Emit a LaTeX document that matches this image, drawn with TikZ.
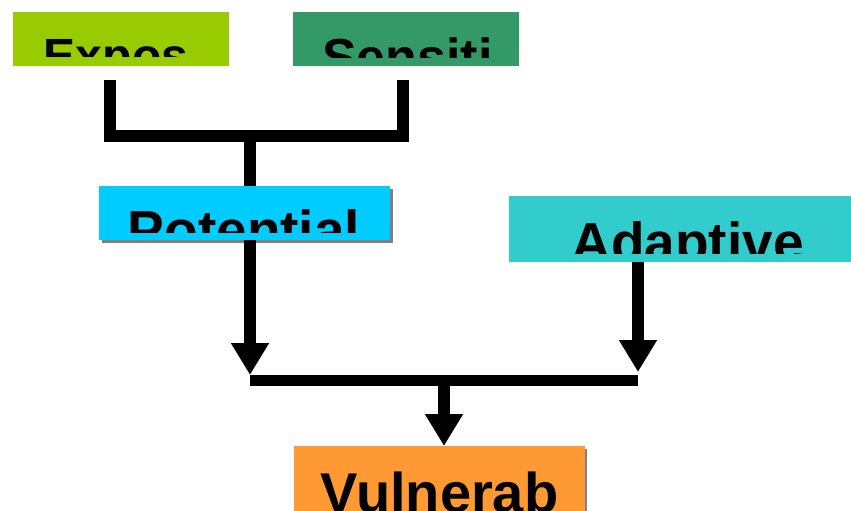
\documentclass[tikz,border=0pt]{standalone}
\usepackage{fontspec}
\setmainfont{Liberation Sans}
\usetikzlibrary{arrows.meta}
\definecolor{cExp}{HTML}{99CC00}
\definecolor{cSen}{HTML}{339966}
\definecolor{cPot}{HTML}{00CCFF}
\definecolor{cAda}{HTML}{33CCCC}
\definecolor{cVul}{HTML}{FF9933}
\begin{document}
\begin{tikzpicture}[x=1pt,y=-1pt,
  box/.style={rectangle,inner sep=0pt,outer sep=0pt,draw=none},
  lbl/.style={inner sep=0pt,outer sep=0pt,anchor=base,text=black},
  conn/.style={line width=12pt,line join=miter},
  arr/.style={line width=12pt,-{Triangle[width=36pt,length=32pt]}},
  shade/.style={fill=black!50}]
\useasboundingbox[fill=white] (0,0) rectangle (851,511);
% shadows
\fill[shade] (102,189) rectangle (393,243);
\fill[shade] (297,449) rectangle (587,520);
% boxes
\node[box,fill=cExp,minimum width=216pt,minimum height=54pt] (expos) at (121,39) {};
\node[box,fill=cSen,minimum width=226pt,minimum height=54pt] (sensiti) at (406,39) {};
\node[box,fill=cPot,minimum width=291pt,minimum height=54pt] (potential) at (244.5,213) {};
\node[box,fill=cAda,minimum width=342pt,minimum height=66pt] (adaptive) at (680,229) {};
\node[box,fill=cVul,minimum width=291pt,minimum height=74pt] (vulnerab) at (439.5,483) {};
% clipped labels
\begin{scope}
\clip (expos.north west) rectangle (229,57);
\node[lbl,font=\bfseries\fontsize{48}{52}\selectfont] (exposT) at (116,72) {Expos};
\end{scope}
\begin{scope}
\clip (sensiti.north west) rectangle (519,58);
\node[lbl,font=\bfseries\fontsize{52}{56}\selectfont] (sensitiT) at (407.5,76) {Sensiti};
\end{scope}
\begin{scope}
\clip (potential.north west) rectangle (390,232);
\node[lbl,font=\bfseries\fontsize{55}{60}\selectfont] (potentialT) at (244,249.5) {Potential};
\end{scope}
\begin{scope}
\clip (adaptive.north west) rectangle (851,253);
\node[lbl,font=\bfseries\fontsize{55}{60}\selectfont] (adaptiveT) at (687.5,261.5) {Adaptive};
\end{scope}
\begin{scope}
\clip (vulnerab.north west) rectangle (585,511);
\node[lbl,font=\bfseries\fontsize{56}{60}\selectfont] (vulnerabT) at (439.5,512) {Vulnerab};
\end{scope}
% connector coordinates
\coordinate (bl) at (110,80);
\coordinate (br) at (403,80);
\coordinate (bm) at (250,136);
\coordinate (tipL) at (250,375);
\coordinate (tipR) at (638,372);
\coordinate (barL) at (250,380.5);
\coordinate (barR) at (638,380.5);
\coordinate (barM) at (444,380.5);
% connectors
\draw[conn] (bl) -- (bl |- bm) -- (br |- bm) -- (br);
\draw[conn] (bm) -- (potential.north -| bm);
\draw[arr] (potential.south -| tipL) -- (tipL);
\draw[arr] (adaptive.south -| tipR) -- (tipR);
\draw[line width=11pt] (barL) -- (barR);
\draw[arr] (barM) -- (vulnerab.north -| barM);
\end{tikzpicture}
\end{document}
